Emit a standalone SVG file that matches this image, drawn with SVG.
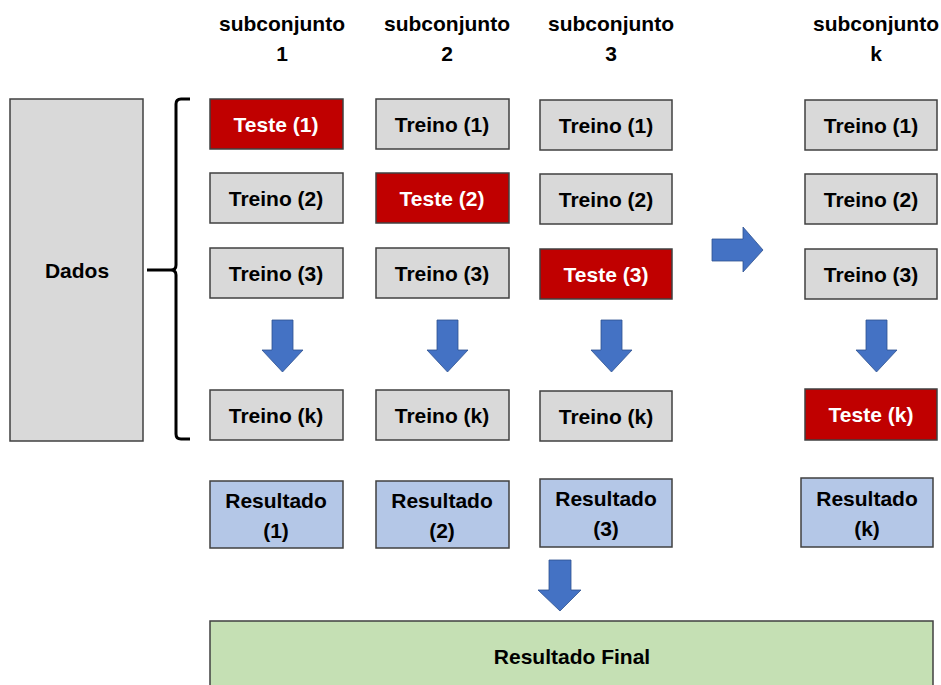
<svg xmlns="http://www.w3.org/2000/svg" width="941" height="685" viewBox="0 0 941 685">
<style>
text{font-family:"Liberation Sans",Arial,sans-serif;font-weight:bold;font-size:21px;text-anchor:middle;fill:#000}
.tr rect{fill:#D9D9D9;stroke:#404040;stroke-width:1.5}
.te rect{fill:#C00000;stroke:#404040;stroke-width:1.5}
.te text{fill:#fff}
.rs rect{fill:#B4C7E7;stroke:#404040;stroke-width:1.5}
.fn rect{fill:#C5E0B4;stroke:#404040;stroke-width:1.5}
.arr{fill:#4472C4;stroke:#2F528F;stroke-width:0.8}
</style>
<rect width="941" height="685" fill="#fff"/>
<g id="headers">
<text x="282" y="31">subconjunto</text><text x="282" y="61">1</text>
<text x="447" y="31">subconjunto</text><text x="447" y="61">2</text>
<text x="611" y="31">subconjunto</text><text x="611" y="61">3</text>
<text x="876" y="31">subconjunto</text><text x="876" y="61">k</text>
</g>
<g id="dados" class="tr"><rect x="10" y="99" width="133" height="342"/><text x="77" y="278">Dados</text></g>
<g id="c1r1" class="te"><rect x="210" y="99" width="133" height="50"/><text x="276" y="132">Teste (1)</text></g>
<g id="c1r2" class="tr"><rect x="210" y="173" width="133" height="50"/><text x="276" y="206">Treino (2)</text></g>
<g id="c1r3" class="tr"><rect x="210" y="248" width="133" height="50"/><text x="276" y="281">Treino (3)</text></g>
<g id="c1rk" class="tr"><rect x="210" y="390" width="133" height="50"/><text x="276" y="423">Treino (k)</text></g>
<g id="c2r1" class="tr"><rect x="376" y="99" width="133" height="50"/><text x="442" y="132">Treino (1)</text></g>
<g id="c2r2" class="te"><rect x="376" y="173" width="133" height="50"/><text x="442" y="206">Teste (2)</text></g>
<g id="c2r3" class="tr"><rect x="376" y="248" width="133" height="50"/><text x="442" y="281">Treino (3)</text></g>
<g id="c2rk" class="tr"><rect x="376" y="390" width="133" height="50"/><text x="442" y="423">Treino (k)</text></g>
<g id="c3r1" class="tr"><rect x="540" y="100" width="132" height="50"/><text x="606" y="133">Treino (1)</text></g>
<g id="c3r2" class="tr"><rect x="540" y="174" width="132" height="50"/><text x="606" y="207">Treino (2)</text></g>
<g id="c3r3" class="te"><rect x="540" y="249" width="132" height="50"/><text x="606" y="282">Teste (3)</text></g>
<g id="c3rk" class="tr"><rect x="540" y="391" width="132" height="50"/><text x="606" y="424">Treino (k)</text></g>
<g id="ckr1" class="tr"><rect x="805" y="100" width="132" height="50"/><text x="871" y="133">Treino (1)</text></g>
<g id="ckr2" class="tr"><rect x="805" y="174" width="132" height="50"/><text x="871" y="207">Treino (2)</text></g>
<g id="ckr3" class="tr"><rect x="805" y="249" width="132" height="50"/><text x="871" y="282">Treino (3)</text></g>
<g id="ckrk" class="te"><rect x="805" y="389" width="132" height="51"/><text x="871" y="422">Teste (k)</text></g>
<g id="res1" class="rs"><rect x="210" y="481" width="133" height="67"/><text x="276" y="508">Resultado</text><text x="276" y="538">(1)</text></g>
<g id="res2" class="rs"><rect x="376" y="481" width="133" height="67"/><text x="442" y="508">Resultado</text><text x="442" y="538">(2)</text></g>
<g id="res3" class="rs"><rect x="540" y="479" width="132" height="68"/><text x="606" y="506">Resultado</text><text x="606" y="536">(3)</text></g>
<g id="resk" class="rs"><rect x="801" y="478" width="132" height="69"/><text x="867" y="506">Resultado</text><text x="867" y="536">(k)</text></g>
<g id="final" class="fn"><rect x="210" y="621" width="723" height="70"/><text x="572" y="664">Resultado Final</text></g>
<g id="connectors">
<path d="M190,99 L181,99 Q176,99 176,104 L176,265 Q176,270 171,270 L147,270 M171,270 Q176,270 176,275 L176,434 Q176,439 181,439 L190,439" fill="none" stroke="#000" stroke-width="3"/>
<path class="arr" d="M272,320 H293 V350 H303 L282.5,372 L262,350 H272 Z"/>
<path class="arr" d="M437,320 H458 V350 H468 L447.5,372 L427,350 H437 Z"/>
<path class="arr" d="M601,320 H622 V350 H632 L611.5,372 L591,350 H601 Z"/>
<path class="arr" d="M866,320 H887 V350 H897 L876.5,372 L856,350 H866 Z"/>
<path class="arr" d="M712,239 H743 V227 L763,250 L743,272 V261 H712 Z"/>
<path class="arr" d="M549,560 H571 V590 H581 L560,611 L538,590 H549 Z"/>
</g>
</svg>
